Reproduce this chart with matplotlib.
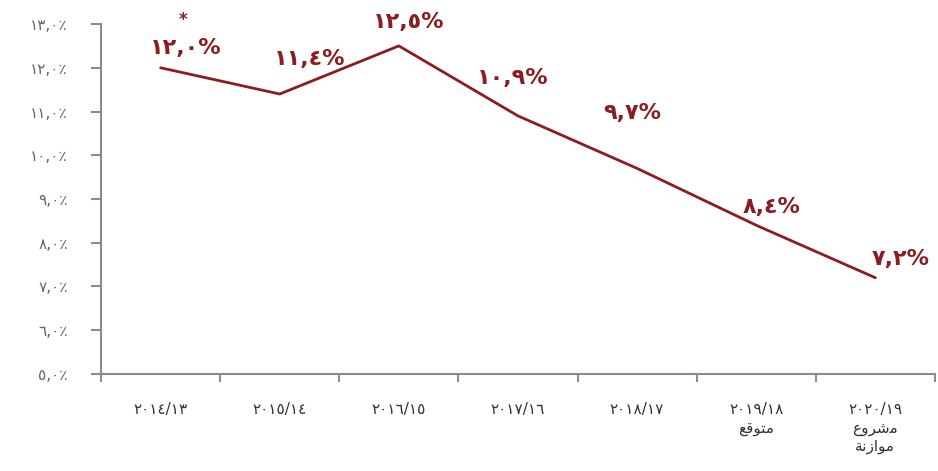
import matplotlib
import matplotlib.pyplot as plt
import numpy as np

matplotlib.use("Agg")

# fiscal years (Arabic-Indic digits), second line = pre-shaped Arabic words
years = ["٢٠١٤/١٣", "٢٠١٥/١٤", "٢٠١٦/١٥", "٢٠١٧/١٦", "٢٠١٨/١٧", "٢٠١٩/١٨", "٢٠٢٠/١٩"]
notes = ["", "", "", "", "",
         "\uFECA\uFED7\uFEEE\uFE98\uFEE3",                       # متوقع
         "\uFEC9\uFEED\uFEAE\uFEB7\uFEE3\n\uFE94\uFEE7\uFEAF\uFE8D\uFEEE\uFEE3"]  # مشروع / موازنة
values = [12.0, 11.4, 12.5, 10.9, 9.7, 8.4, 7.2]
value_labels = ["١٢,٠%", "١١,٤%", "١٢,٥%", "١٠,٩%", "٩,٧%", "٨,٤%", "٧,٢%"]
ytick_vals = [5, 6, 7, 8, 9, 10, 11, 12, 13]
ytick_labels = ["٥,٠٪", "٦,٠٪", "٧,٠٪", "٨,٠٪", "٩,٠٪", "١٠,٠٪", "١١,٠٪", "١٢,٠٪", "١٣,٠٪"]

red = "#8b1c1f"
grey = "#8c8c8c"

fig = plt.figure(figsize=(9.38, 4.71), dpi=100)
ax = fig.add_axes([0.1077, 0.206, 0.889, 0.743])

x = np.arange(len(values))
ax.plot(x, values, color=red, lw=2.0, solid_capstyle="round")

# label offsets in pixels (dx, dy) relative to each point
offsets = [(25, 20), (30, 35), (10, 24), (-5, 38), (-5, 55), (15, 18), (25, 19)]
for xi, v, lab, (dx, dy) in zip(x, values, value_labels, offsets):
    ax.annotate(lab, (xi, v), xytext=(dx * 0.72, dy * 0.72), textcoords="offset points",
                ha="center", va="center", color=red, fontsize=16, fontweight="bold")
ax.annotate("*", (x[0], values[0]), xytext=(22 * 0.72, 48 * 0.72), textcoords="offset points",
            ha="center", va="center", color=red, fontsize=12, fontweight="bold")

ax.set_xlim(-0.5, len(values) - 0.5)
ax.set_ylim(5, 13)
ax.set_yticks(ytick_vals)
ax.set_yticklabels(ytick_labels)
ax.set_xticks(x)
ax.set_xticklabels([y + ("\n" + n if n else "") for y, n in zip(years, notes)],
                   linespacing=1.3)
ax.set_xticks(np.arange(-0.5, len(values), 1.0), minor=True)

ax.tick_params(axis="x", which="major", length=0, pad=20, labelsize=11, labelcolor="#333333")
ax.tick_params(axis="x", which="minor", length=6, width=1.5, color=grey, direction="out")
ax.tick_params(axis="y", length=7, width=1.5, color=grey, pad=17, labelsize=11, labelcolor="#666666")
for lbl in ax.get_xticklabels():
    lbl.set_verticalalignment("top")

for s in ["top", "right"]:
    ax.spines[s].set_visible(False)
for s in ["left", "bottom"]:
    ax.spines[s].set_color(grey)
    ax.spines[s].set_linewidth(1.5)

fig.savefig("out.png", dpi=100)
